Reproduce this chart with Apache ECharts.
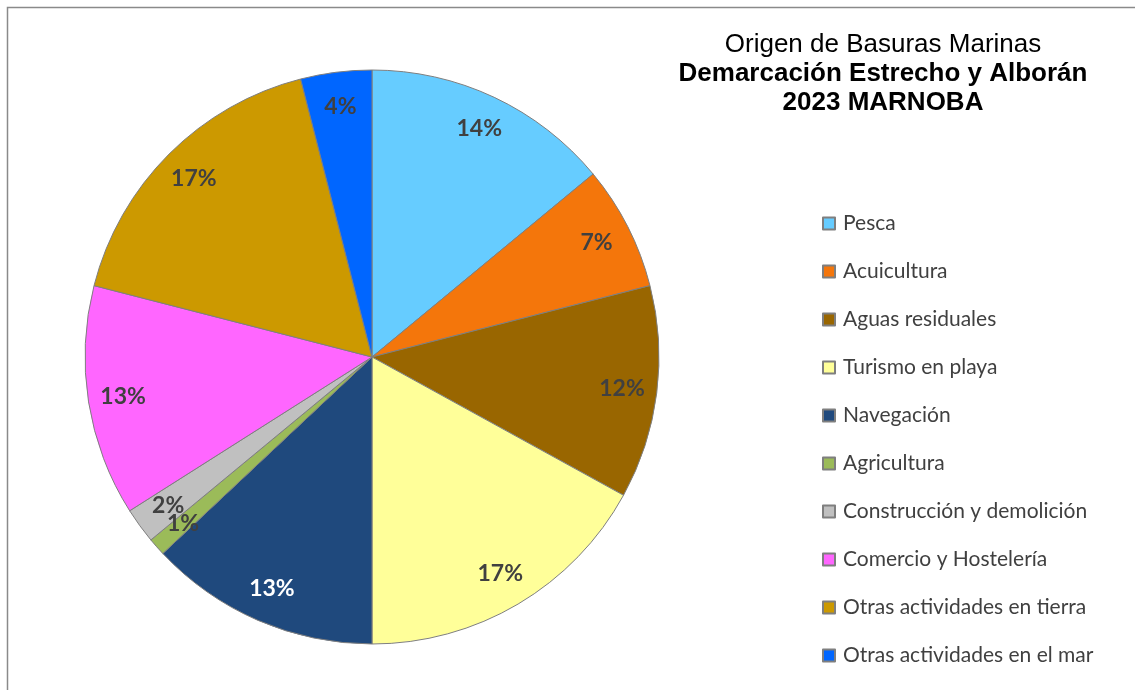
<!DOCTYPE html>
<html>
<head>
<meta charset="utf-8">
<script src="https://cdn.jsdelivr.net/npm/echarts@6/dist/echarts.min.js"></script>
<style>
  html, body { margin: 0; padding: 0; background: #ffffff; }
  #chart { width: 1135px; height: 690px; }
</style>
</head>
<body>
<div id="chart"></div>
<script>
// Origin categories of marine litter and their share (%)
const categories = [
  'Pesca',
  'Acuicultura',
  'Aguas residuales',
  'Turismo en playa',
  'Navegación',
  'Agricultura',
  'Construcción y demolición',
  'Comercio y Hostelería',
  'Otras actividades en tierra',
  'Otras actividades en el mar'
];
const shares = [14, 7, 12, 17, 13, 1, 2, 13, 17, 4];
const sliceColors = [
  '#66CCFF', '#F4760B', '#996600', '#FFFF99', '#1F497D',
  '#9BBB59', '#C0C0C0', '#FF66FF', '#CC9900', '#0066FF'
];
const labelColors = [
  '#404040', '#404040', '#404040', '#404040', '#FFFFFF',
  '#404040', '#404040', '#404040', '#404040', '#404040'
];

const titleLines = ['Origen de Basuras Marinas', 'Demarcación Estrecho y Alborán', '2023 MARNOBA'];

const center = [372, 357];
const radius = 287;
// Percentage labels sit near the rim, at this fraction of the radius
const labelRadius = 0.878;

const total = shares.reduce((a, b) => a + b, 0);

const pieData = categories.map((name, i) => ({
  name: name,
  value: shares[i],
  itemStyle: { color: sliceColors[i] }
}));

// Label anchors on a polar grid that shares the pie's centre, radius and start angle:
// angle = middle of each slice (in percent of the full turn)
let running = 0;
const labelPoints = shares.map((v, i) => {
  const mid = running + v / 2;
  running += v;
  return {
    value: [labelRadius, mid / total * 100],
    share: v,
    label: { color: labelColors[i] }
  };
});

const chart = echarts.init(document.getElementById('chart'), null, { renderer: 'canvas' });

chart.setOption({
  backgroundColor: '#ffffff',
  animation: false,
  title: {
    text: '{a|' + titleLines[0] + '}\n{b|' + titleLines[1] + '}\n{b|' + titleLines[2] + '}',
    left: 878,
    top: 25,
    textAlign: 'center',
    textStyle: {
      rich: {
        a: { fontFamily: 'Liberation Sans', fontSize: 26, fontWeight: 'normal', color: '#000000', lineHeight: 29, align: 'center' },
        b: { fontFamily: 'Liberation Sans', fontSize: 26, fontWeight: 'bold', color: '#000000', lineHeight: 29, align: 'center' }
      }
    }
  },
  legend: {
    orient: 'vertical',
    left: 817,
    top: 208,
    itemWidth: 12,
    itemHeight: 12,
    itemGap: 27,
    icon: 'rect',
    selectedMode: false,
    data: categories,
    textStyle: {
      fontFamily: 'Lato',
      fontSize: 21,
      color: '#404040',
      lineHeight: 20,
      padding: [0, 0, 0, 3]
    }
  },
  polar: { center: center, radius: radius },
  angleAxis: { type: 'value', min: 0, max: 100, startAngle: 90, clockwise: true, show: false },
  radiusAxis: { type: 'value', min: 0, max: 1, show: false },
  graphic: [{
    type: 'rect',
    shape: { x: 7.5, y: 7.5, width: 1140, height: 700 },
    style: { fill: 'none', stroke: '#8a8a8a', lineWidth: 1.5 },
    silent: true,
    z: 100
  }],
  series: [
    {
      type: 'pie',
      center: center,
      radius: [0, radius],
      startAngle: 90,
      clockwise: true,
      silent: true,
      label: { show: false },
      labelLine: { show: false },
      itemStyle: { borderColor: '#7f7f7f', borderWidth: 1 },
      data: pieData
    },
    {
      type: 'scatter',
      coordinateSystem: 'polar',
      silent: true,
      symbolSize: 0,
      z: 5,
      itemStyle: { opacity: 1, color: 'rgba(0,0,0,0)' },
      label: {
        show: true,
        position: 'inside',
        formatter: p => p.data.share + '%',
        fontFamily: 'Lato',
        fontWeight: 'bold',
        fontSize: 23,
        opacity: 1,
        textBorderWidth: 0
      },
      data: labelPoints
    }
  ]
});
</script>
</body>
</html>
